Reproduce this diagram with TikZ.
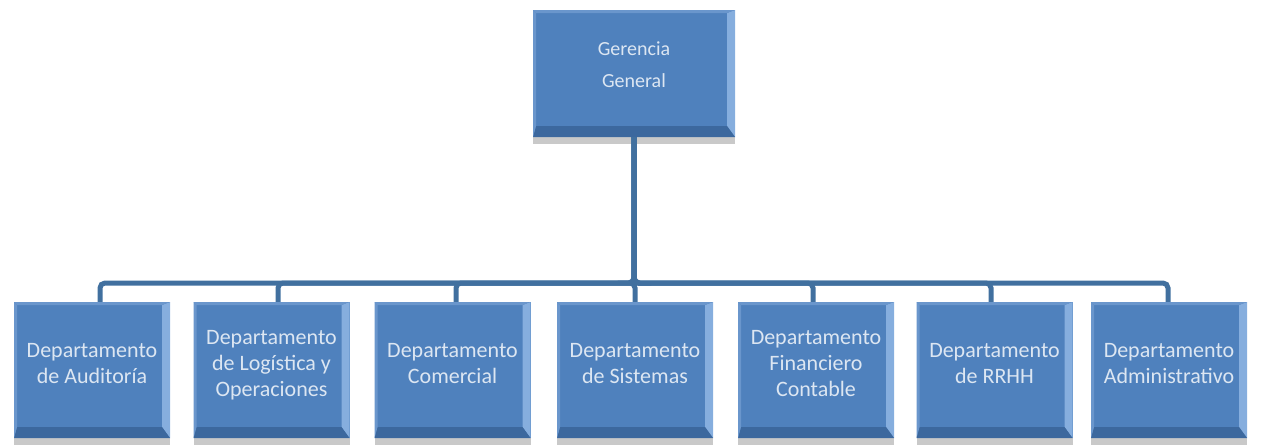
\documentclass[tikz,border=0pt]{standalone}
\usepackage{fontspec}
\setmainfont{Carlito}
\usetikzlibrary{shadows}
\definecolor{boxblue}{HTML}{4F81BD}
\definecolor{bevlight}{HTML}{86AEDE}
\definecolor{bevdark}{HTML}{3C689E}
\definecolor{bevtop}{HTML}{6A96CC}
\definecolor{linec}{HTML}{41709F}
\definecolor{txtc}{HTML}{DCE6F2}
\tikzset{
 bevbox/.style={fill=boxblue, text=txtc, align=center, inner sep=0pt,
  drop shadow={shadow xshift=0pt, shadow yshift=-7pt, opacity=.3, fill=black!70},
  path picture={
   \fill[bevlight] (path picture bounding box.north east) -- (path picture bounding box.south east)
     -- ([xshift=-8pt,yshift=11pt]path picture bounding box.south east)
     -- ([xshift=-8pt,yshift=-3pt]path picture bounding box.north east) -- cycle;
   \fill[bevdark] (path picture bounding box.south west) -- (path picture bounding box.south east)
     -- ([xshift=-8pt,yshift=11pt]path picture bounding box.south east)
     -- ([xshift=3pt,yshift=11pt]path picture bounding box.south west) -- cycle;
   \fill[bevtop] (path picture bounding box.north west) -- (path picture bounding box.north east)
     -- ([xshift=-8pt,yshift=-3pt]path picture bounding box.north east)
     -- ([xshift=3pt,yshift=-3pt]path picture bounding box.north west) -- cycle;
   \fill[bevtop] (path picture bounding box.north west) -- (path picture bounding box.south west)
     -- ([xshift=3pt,yshift=11pt]path picture bounding box.south west)
     -- ([xshift=3pt,yshift=-3pt]path picture bounding box.north west) -- cycle;
  }},
 topbox/.style={bevbox, minimum width=202pt, minimum height=127pt, text depth=17pt, font=\fontsize{20}{32}\selectfont},
 deptbox/.style={bevbox, minimum width=156pt, minimum height=136pt, text depth=14pt, font=\fontsize{22}{26}\selectfont},
 conn/.style={draw=linec, line width=5pt, rounded corners=5pt},
}
\begin{document}
\begin{tikzpicture}[x=1pt,y=-1pt]
\useasboundingbox (0,0) rectangle (1261,445);
\node[topbox] (top) at (634,73.5) {Gerencia\\General};
\node[deptbox] (d1) at (92,370) {Departamento\\de Auditoría};
\node[deptbox] (d2) at (271.5,370) {Departamento\\de Logística y\\Operaciones};
\node[deptbox] (d3) at (452.5,370) {Departamento\\Comercial};
\node[deptbox] (d4) at (635,370) {Departamento\\de Sistemas};
\node[deptbox] (d5) at (816,370) {Departamento\\Financiero\\Contable};
\node[deptbox] (d6) at (994.5,370) {Departamento\\de RRHH};
\node[deptbox] (d7) at (1169,370) {Departamento\\Administrativo};
\coordinate (bus) at (0,283);
\foreach \d/\s in {d1/8,d2/6.5,d3/3.5,d4/0,d5/-3,d6/-3.5,d7/-1}{
  \draw[conn] (top.south) |- ([xshift=\s pt]\d.north |- bus) -- ([xshift=\s pt]\d.north);
}
\end{tikzpicture}
\end{document}
